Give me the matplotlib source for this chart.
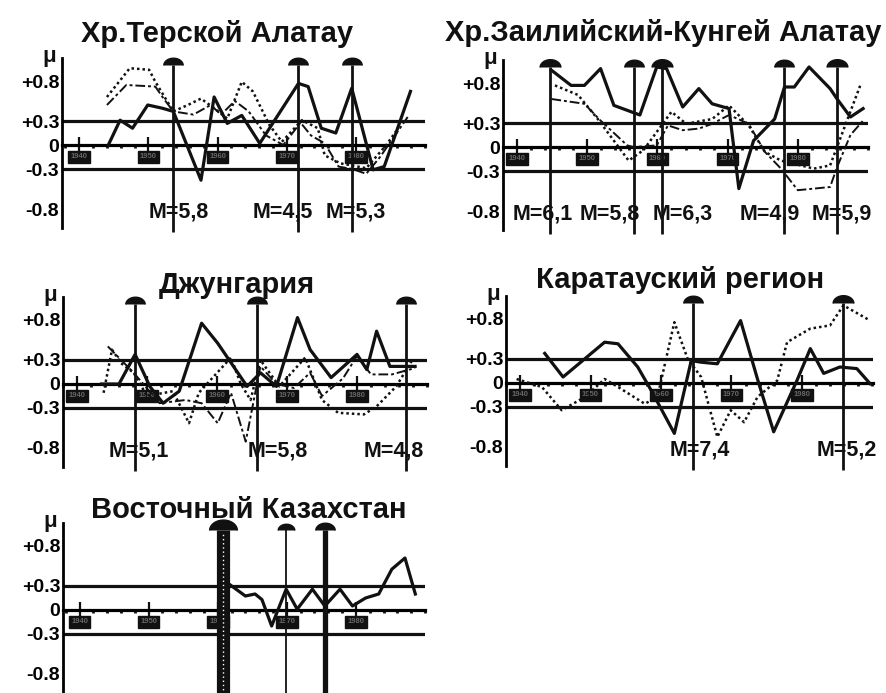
import numpy as np
import matplotlib.pyplot as plt

plt.rcParams['font.family'] = ['Liberation Sans', 'DejaVu Sans']
plt.rcParams['font.weight'] = 'bold'

W, H = 886, 693
ink = '#111111'

titles = ["Хр.Терской Алатау", "Хр.Заилийский-Кунгей Алатау", "Джунгария",
          "Каратауский регион", "Восточный Казахстан"]
years = [1940, 1950, 1960, 1970, 1980]
mu_ticks = [-0.8, -0.3, 0, 0.3, 0.8]
mu_labels = ["-0.8", "-0.3", "0", "+0.3", "+0.8"]
levels = [-0.3, 0.3]

# --- Хр.Терской Алатау
ter_thick_x = [1944.2, 1945.9, 1947.7, 1949.9, 1952.0, 1953.6, 1957.6, 1959.5, 1961.4, 1963.5,
               1966.1, 1971.7, 1973.1, 1975.0, 1977.1, 1979.4, 1982.5, 1984.1, 1987.9]
ter_thick_y = [0.0, 0.31, 0.21, 0.50, 0.46, 0.42, -0.44, 0.60, 0.27, 0.37,
               0.02, 0.77, 0.73, 0.21, 0.15, 0.71, -0.31, -0.27, 0.67]
ter_dot_x = [1944.0, 1947.3, 1950.1, 1951.0, 1953.6, 1955.7, 1957.6, 1959.5, 1961.4, 1963.5,
             1965.1, 1967.5, 1969.3, 1972.2, 1974.5, 1975.5, 1977.8, 1981.5, 1984.4, 1985.8]
ter_dot_y = [0.60, 0.96, 0.94, 0.79, 0.42, 0.50, 0.58, 0.46, 0.33, 0.79,
             0.67, 0.25, 0.04, 0.31, 0.21, -0.13, -0.23, -0.29, 0.0, 0.17]
ter_thin_x = [1944.0, 1946.8, 1951.0, 1952.2, 1953.6, 1956.5, 1959.0, 1960.5, 1962.5, 1964.5,
              1967.0, 1969.5, 1972.0, 1973.5, 1975.5, 1977.5, 1979.5, 1981.5, 1983.5, 1985.5, 1987.5]
ter_thin_y = [0.50, 0.75, 0.73, 0.58, 0.42, 0.38, 0.50, 0.38, 0.55, 0.42,
              0.12, 0.0, 0.28, 0.12, 0.02, -0.27, -0.30, -0.36, -0.15, 0.10, 0.35]
ter_ev = [1953.6, 1971.7, 1979.4]
ter_mag = ["5,8", "4,5", "5,3"]

# --- Хр.Заилийский-Кунгей Алатау
zai_thick_x = [1944.9, 1947.7, 1949.6, 1951.9, 1953.8, 1957.5, 1959.9, 1961.3, 1963.6, 1965.9,
               1967.8, 1970.2, 1971.6, 1973.7, 1976.7, 1978.1, 1979.5, 1981.6, 1984.6, 1985.6,
               1987.5, 1989.3]
zai_thick_y = [0.96, 0.77, 0.77, 0.98, 0.52, 0.40, 1.0, 0.98, 0.50, 0.73,
               0.54, 0.48, -0.52, 0.08, 0.35, 0.75, 0.75, 1.0, 0.73, 0.60,
               0.375, 0.48]
zai_dot_x = [1945.4, 1948.7, 1951.5, 1955.9, 1958.0, 1962.0, 1964.1, 1967.8, 1970.2, 1973.0,
             1975.3, 1977.6, 1982.3, 1984.6, 1988.9]
zai_dot_y = [0.77, 0.65, 0.35, -0.17, -0.04, 0.44, 0.29, 0.35, 0.52, 0.27,
             -0.06, -0.17, -0.27, -0.23, 0.77]
zai_thin_x = [1944.9, 1949.6, 1951.9, 1955.7, 1956.6, 1959.9, 1961.5, 1963.6, 1965.9, 1967.8,
              1970.2, 1973.0, 1975.3, 1977.6, 1980.0, 1984.6, 1985.6, 1987.5, 1989.3]
zai_thin_y = [0.60, 0.54, 0.33, 0.02, 0.0, 0.02, 0.27, 0.21, 0.23, 0.29,
              0.40, 0.29, -0.06, -0.27, -0.54, -0.50, -0.25, 0.15, 0.33]
zai_ev = [1944.7, 1956.6, 1960.6, 1978.1, 1985.6]
zai_mag = ["6,1", "5,8", "6,3", "4,9", "5,9"]

# --- Джунгария
dzh_thick_x = [1943.5, 1946.0, 1948.3, 1950.4, 1952.3, 1954.6, 1957.8, 1960.1, 1964.3, 1966.2,
               1968.5, 1971.5, 1973.3, 1976.3, 1980.0, 1981.4, 1982.8, 1984.7, 1988.3]
dzh_thick_y = [0.0, 0.0, 0.37, -0.03, -0.24, -0.09, 0.76, 0.51, -0.03, 0.14,
               -0.03, 0.83, 0.43, 0.08, 0.37, 0.18, 0.66, 0.22, 0.22]
dzh_dot_x = [1943.8, 1945.0, 1946.3, 1948.1, 1950.0, 1953.7, 1956.0, 1957.4, 1962.0, 1963.4,
             1964.8, 1966.2, 1968.9, 1972.6, 1975.0, 1977.3, 1981.0, 1982.8, 1985.6, 1987.9]
dzh_dot_y = [-0.11, 0.43, 0.26, 0.14, -0.15, -0.09, -0.49, -0.11, 0.33, 0.0,
             -0.20, 0.30, -0.03, 0.33, -0.20, -0.36, -0.38, -0.28, -0.03, 0.30]
dzh_thin_x = [1944.4, 1948.1, 1951.8, 1955.5, 1957.8, 1960.1, 1962.0, 1964.1, 1966.2, 1968.5,
              1971.0, 1973.3, 1975.0, 1978.0, 1980.0, 1982.0, 1985.0, 1988.3]
dzh_thin_y = [0.47, 0.14, -0.24, -0.20, -0.24, -0.49, -0.11, -0.72, 0.22, 0.0,
              -0.05, 0.14, -0.15, 0.07, 0.35, 0.12, 0.12, 0.20]
dzh_ev = [1948.3, 1965.7, 1987.0]
dzh_mag = ["5,1", "5,8", "4,8"]

# --- Каратауский регион
kar_thick_x = [1943.5, 1946.1, 1952.0, 1953.9, 1956.7, 1958.6, 1961.9, 1964.3, 1965.7, 1968.0,
               1971.3, 1973.7, 1976.0, 1979.3, 1981.2, 1983.1, 1985.4, 1987.8, 1989.7]
kar_thick_y = [0.37, 0.075, 0.51, 0.49, 0.20, -0.09, -0.63, 0.28, 0.26, 0.24,
               0.78, 0.05, -0.61, 0.03, 0.43, 0.12, 0.20, 0.18, -0.01]
kar_dot_x = [1939.5, 1943.1, 1945.9, 1949.2, 1952.0, 1953.9, 1957.7, 1959.5, 1961.9, 1963.8,
             1965.7, 1968.0, 1969.9, 1971.8, 1973.7, 1976.5, 1977.9, 1981.2, 1984.0, 1985.9, 1989.7]
kar_dot_y = [0.05, -0.05, -0.34, -0.175, 0.05, -0.05, -0.26, -0.175, 0.76, 0.30,
             0.075, -0.675, -0.34, -0.49, -0.175, 0.03, 0.51, 0.68, 0.72, 0.97, 0.78]
kar_ev = [1964.5, 1985.9]
kar_mag = ["7,4", "5,2"]

# --- Восточный Казахстан
vk_thick_x = [1961.7, 1964.0, 1965.4, 1966.4, 1967.8, 1969.9, 1971.5, 1973.7, 1975.5, 1977.7,
              1979.5, 1981.4, 1983.3, 1985.2, 1987.1, 1988.6]
vk_thick_y = [0.32, 0.175, 0.20, 0.13, -0.20, 0.26, 0.01, 0.26, 0.05, 0.26,
              0.05, 0.15, 0.20, 0.51, 0.65, 0.20]
vk_ev = [1960.7, 1969.9, 1975.5]
vk_mag = [None, None, None]

YMIN, YMAX = -83 / 80, 87 / 80
EV_TOP = 1.0
t = np.linspace(0, np.pi, 24)
cap = list(zip(np.cos(t), 0.75 * np.sin(t)))

fig = plt.figure(figsize=(W / 100, H / 100), dpi=100)


def panel(box, xlim, title, title_xy, series, ev, mags, label_dx, ev_lw, cap_ms):
    left, right, zero = box
    top, bottom = zero - 87, zero + 83
    ax = fig.add_axes([left / W, 1 - bottom / H, (right - left) / W, (bottom - top) / H])
    ax.set_xlim(*xlim)
    ax.set_ylim(YMIN, YMAX)
    ax.patch.set_alpha(0)
    for s in ['top', 'right']:
        ax.spines[s].set_visible(False)
    ax.spines['bottom'].set_position(('data', 0))
    ax.spines['bottom'].set_linewidth(2.3)
    ax.spines['left'].set_linewidth(2.0)
    for lev in levels:
        ax.axhline(lev, color=ink, lw=2.3, zorder=2)

    ax.set_xticks(years, [str(y) for y in years])
    ax.set_xticks(np.arange(1938, 1992, 2), minor=True)
    ax.tick_params(axis='x', which='major', direction='inout', length=11, width=1.6,
                   pad=0.5, labelsize=5.5, labelcolor='#666666', color=ink)
    ax.tick_params(axis='x', which='minor', direction='out', length=2.5, width=2, color=ink)
    for lbl in ax.get_xticklabels():
        lbl.set_bbox(dict(boxstyle='square,pad=0.3', fc=ink, ec=ink))
    ax.set_yticks(mu_ticks, mu_labels)
    ax.tick_params(axis='y', length=0, pad=2, labelsize=14)

    styles = [dict(lw=2.3, ls='-'), dict(lw=1.8, ls=(0, (1, 1.2))),
              dict(lw=1.4, ls=(0, (5, 1.5, 1.5, 1.5)))]
    for (x, y), st in zip(series, styles):
        ax.plot(x, y, color=ink, zorder=3, **st)

    for yr, m, dx, lw, ms in zip(ev, mags, label_dx, ev_lw, cap_ms):
        ax.vlines(yr, YMIN - 0.05, EV_TOP, color=ink, lw=lw, zorder=4, clip_on=False)
        if lw > 6:
            ax.vlines(yr, YMIN - 0.05, EV_TOP - 0.05, color='white', lw=1,
                      ls=(0, (1, 2)), zorder=4.5, clip_on=False)
        ax.plot(yr, EV_TOP, marker=cap, ms=ms, color=ink, clip_on=False, zorder=5)
        if m:
            ax.annotate(f"M={m}", xy=(yr, -0.84), xytext=(dx * 0.72, 0),
                        textcoords='offset points', ha='center', va='center',
                        fontsize=15.5, color=ink)

    ax.annotate("μ", xy=(0, 1), xycoords='axes fraction', xytext=(-9, 1),
                textcoords='offset points', ha='center', va='center', fontsize=16, color=ink)
    fig.text(title_xy[0] / W, 1 - title_xy[1] / H, title, ha='center', va='center',
             fontsize=21, color=ink)
    return ax


panel((62, 425, 145), (1937.5, 1988.6), titles[0], (217, 34),
      [(ter_thick_x, ter_thick_y), (ter_dot_x, ter_dot_y), (ter_thin_x, ter_thin_y)],
      ter_ev, ter_mag, [5, -16, 4], [2, 2, 2], [14, 14, 14])
panel((503, 868, 147), (1938.3, 1989.5), titles[1], (663, 33),
      [(zai_thick_x, zai_thick_y), (zai_dot_x, zai_dot_y), (zai_thin_x, zai_thin_y)],
      zai_ev, zai_mag, [-7, -24, 21, -15, 5], [2, 2, 2, 2, 2], [15, 14, 15, 14, 15])
panel((63, 427, 384), (1938.3, 1988.9), titles[2], (237, 285),
      [(dzh_thick_x, dzh_thick_y), (dzh_dot_x, dzh_dot_y), (dzh_thin_x, dzh_thin_y)],
      dzh_ev, dzh_mag, [4, 21, -12], [2, 2, 2], [14, 14, 14])
panel((506, 873, 383), (1938.3, 1990.1), titles[3], (680, 280),
      [(kar_thick_x, kar_thick_y), (kar_dot_x, kar_dot_y)],
      kar_ev, kar_mag, [7, 3], [2, 2], [14, 15])
panel((63, 425, 610), (1937.6, 1988.7), titles[4], (249, 510),
      [(vk_thick_x, vk_thick_y)],
      vk_ev, vk_mag, [0, 0, 0], [9.5, 1.3, 3.8], [20, 12, 14])

fig.savefig("out.png", dpi=100)
